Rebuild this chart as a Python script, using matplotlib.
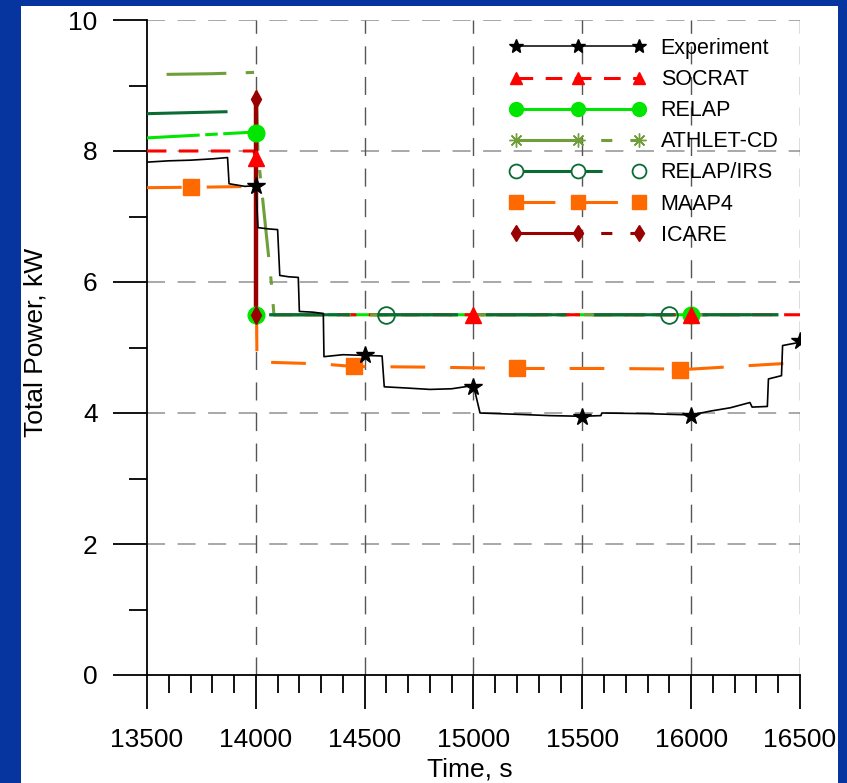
import matplotlib
matplotlib.use('Agg')
import matplotlib.pyplot as plt
from matplotlib.patches import Rectangle
import numpy as np

plt.rcParams['font.family'] = ['Liberation Sans', 'DejaVu Sans']
plt.rcParams['lines.scale_dashes'] = False

# Data
exp_t = [13500, 13600, 13700, 13800, 13870, 13877, 13950, 14000, 14010, 14060, 14100,
         14110, 14150, 14195, 14200, 14260, 14310, 14313, 14400, 14500, 14580, 14590,
         14700, 14800, 14900, 15000, 15030, 15200, 15350, 15500, 15585, 15590, 15800,
         16000, 16090, 16180, 16270, 16280, 16350, 16355, 16415, 16420, 16500]
exp_p = [7.83, 7.85, 7.86, 7.88, 7.90, 7.50, 7.46, 7.47, 6.83, 6.81, 6.80,
         6.10, 6.08, 6.07, 5.55, 5.54, 5.52, 4.86, 4.89, 4.88, 4.87, 4.40,
         4.38, 4.36, 4.37, 4.42, 4.00, 3.98, 3.96, 3.95, 3.96, 4.00, 3.99,
         3.97, 4.03, 4.08, 4.16, 4.09, 4.10, 4.52, 4.57, 5.03, 5.08]
exp_mark_t = [14000, 14500, 15000, 15500, 16000, 16500]
exp_mark_p = [7.47, 4.88, 4.40, 3.94, 3.96, 5.10]

socrat_t = [13500, 13990, 14000, 14002, 16500]
socrat_p = [8.0, 8.0, 7.9, 5.5, 5.5]
socrat_mark_t = [14000, 15000, 16000]
socrat_mark_p = [7.9, 5.5, 5.5]

relap_t = [13500, 14000, 14001, 16000]
relap_p = [8.2, 8.29, 5.5, 5.5]
relap_mark_t = [14000, 14000, 16000]
relap_mark_p = [8.28, 5.5, 5.5]

athlet_t = [13590, 13800, 13995, 14000, 14010, 14074, 14083, 16450]
athlet_p = [9.17, 9.18, 9.20, 9.15, 7.95, 5.90, 5.50, 5.50]

irs_t = [13500, 13870, 14000, 14001, 16400]
irs_p = [8.57, 8.60, 8.60, 5.5, 5.5]
irs_mark_t = [14600, 15900]
irs_mark_p = [5.5, 5.5]

maap_t = [13500, 13800, 14000, 14005, 14100, 14300, 14450, 14800, 15200, 15600, 16000, 16200, 16500]
maap_p = [7.44, 7.45, 7.46, 4.78, 4.77, 4.75, 4.71, 4.70, 4.68, 4.68, 4.67, 4.71, 4.77]
maap_mark_t = [13700, 14450, 15200, 15950]
maap_mark_p = [7.45, 4.72, 4.69, 4.66]

icare_t = [14000, 14000]
icare_p = [8.8, 5.5]

labels = ['Experiment', 'SOCRAT', 'RELAP', 'ATHLET-CD', 'RELAP/IRS', 'MAAP4', 'ICARE']

W, H = 847, 783
fig = plt.figure(figsize=(W / 100, H / 100), dpi=100)
fig.patch.set_facecolor('#0635A0')
fig.patches.append(Rectangle((21 / W, 0), (838 - 21) / W, (H - 6) / H,
                             transform=fig.transFigure, facecolor='white',
                             edgecolor='none', zorder=-10))

ax = fig.add_axes([147 / W, 1 - 675 / H, (800 - 147) / W, (675 - 20) / H])
ax.set_facecolor('none')

red = '#FF0000'
lime = '#00E600'
olive = '#6F9E3A'
dgreen = '#0A6B35'
orange = '#FF6A00'
dred = '#990000'

# lines
ax.plot(relap_t, relap_p, color=lime, lw=2.2, ls=(0, (38, 4, 9, 4)), zorder=3)
ax.plot(socrat_t, socrat_p, color=red, lw=2.2, ls=(0, (14, 9)), zorder=3.1)
ax.plot(athlet_t, athlet_p, color=olive, lw=2.2, ls=(0, (43, 14, 6, 14)), zorder=3.2)
ax.plot(irs_t, irs_p, color=dgreen, lw=2.2, ls=(0, (58, 20)), zorder=3.3)
ax.plot(maap_t, maap_p, color=orange, lw=2.2, ls=(0, (25, 18)), zorder=3.4)
ax.plot(icare_t, icare_p, color=dred, lw=3.2, zorder=3.5)
ax.plot(exp_t, exp_p, color='black', lw=1.2, zorder=4)

# markers
ax.plot(relap_mark_t, relap_mark_p, ls='none', marker='o', ms=12, color=lime, zorder=5)
ax.plot(socrat_mark_t, socrat_mark_p, ls='none', marker='^', ms=11, color=red, zorder=5.1)
ax.plot(irs_mark_t, irs_mark_p, ls='none', marker='o', ms=12, mfc='none', mec=dgreen, mew=1.3, zorder=5.2)
ax.plot(maap_mark_t, maap_mark_p, ls='none', marker='s', ms=12, color=orange, zorder=5.3)
ax.plot(icare_t, icare_p, ls='none', marker='d', ms=9, color=dred, zorder=5.4)
ax.plot(exp_mark_t, exp_mark_p, ls='none', marker='*', ms=13, color='black', zorder=6)

# legend handles
handles = [
    plt.Line2D([], [], color='black', lw=1.1, marker='*', ms=10),
    plt.Line2D([], [], color=red, lw=2.2, ls=(0, (12, 9)), marker='^', ms=9),
    plt.Line2D([], [], color=lime, lw=2.2, ls=(0, (40, 6, 50, 6)), marker='o', ms=10),
    plt.Line2D([], [], color=olive, lw=2.2, ls=(0, (48, 13, 8, 13)), marker=(8, 2, 0), ms=10),
    plt.Line2D([], [], color=dgreen, lw=2.2, ls=(0, (62, 22)), marker='o', ms=10, mfc='white', mew=1.3),
    plt.Line2D([], [], color=orange, lw=2.2, ls=(0, (28, 17)), marker='s', ms=10),
    plt.Line2D([], [], color=dred, lw=2.2, ls=(0, (48, 13, 8, 13)), marker='d', ms=8),
]
ax.legend(handles, labels, loc='upper left', bbox_to_anchor=(510 / W, 1 - 38 / H),
          bbox_transform=fig.transFigure, frameon=False, numpoints=3,
          fontsize=15.5, handlelength=6.3, handletextpad=0.7, labelspacing=0.47,
          borderpad=0, borderaxespad=0)

ax.set_xlim(13500, 16500)
ax.set_ylim(0, 10)
ax.set_xticks(np.arange(13500, 16501, 500))
ax.set_xticks(np.arange(13500, 16501, 100), minor=True)
ax.set_yticks(np.arange(0, 11, 2))
ax.set_yticks(np.arange(0, 11, 1), minor=True)

for spine in ['top', 'right']:
    ax.spines[spine].set_visible(False)
ax.spines['left'].set_linewidth(1.3)
ax.spines['bottom'].set_linewidth(1.3)

ax.tick_params(which='major', length=24.5, width=1.3, labelsize=19)
ax.tick_params(axis='y', which='major', pad=11)
ax.tick_params(axis='x', which='major', pad=14)
ax.tick_params(which='minor', length=13, width=1.3)

for yv in [2, 4, 6, 8, 10]:
    ax.axhline(yv, color='#999999', lw=1.2, ls=(0, (13, 9)), zorder=1)
for xv in [14000, 14500, 15000, 15500, 16000, 16500]:
    ax.axvline(xv, color='#555555', lw=1.0, ls=(0, (13, 9)), zorder=1)

fig.text(35 / W, 1 - 342 / H, 'Total Power, kW', rotation=90, ha='center', va='center', fontsize=19)
fig.text(470 / W, 1 - 769 / H, 'Time, s', ha='center', va='center', fontsize=19)

fig.savefig('out.png', dpi=100, facecolor=fig.get_facecolor())
